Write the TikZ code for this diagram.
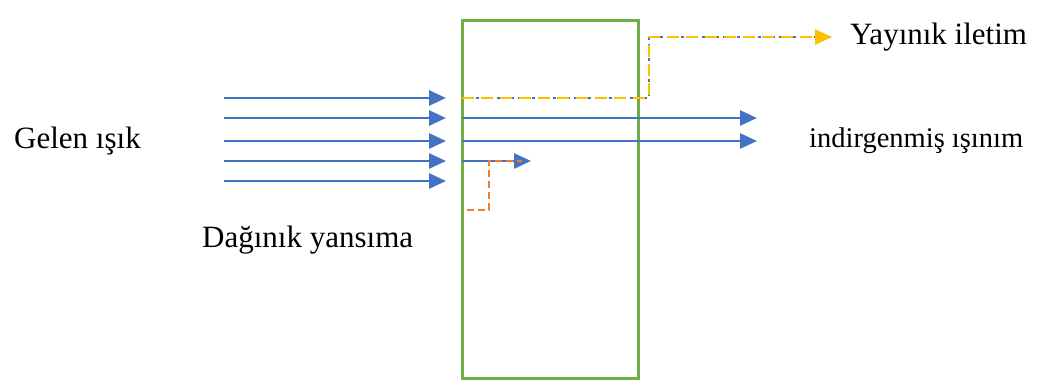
\documentclass[tikz,border=0pt]{standalone}
\usepackage{fontspec}
\setmainfont{Liberation Serif}
\usetikzlibrary{arrows.meta}
\definecolor{mblue}{HTML}{4472C4}
\definecolor{mgreen}{HTML}{70AD47}
\definecolor{morange}{HTML}{ED7D31}
\definecolor{myellow}{HTML}{FFC000}
\begin{document}
\begin{tikzpicture}[x=1pt,y=-1pt,
  ray/.style={draw=mblue, line width=2.8pt, -{Triangle[length=17pt,width=15pt]}},
  lbl/.style={font=\fontsize{31}{36}\selectfont, inner sep=0pt},
  slabbox/.style={draw=mgreen, line width=3pt, minimum width=176pt, minimum height=358pt, inner sep=0pt},
]
\useasboundingbox (0,0) rectangle (1041,383);
\node[slabbox] (slab) at (550,199) {};
% incoming rays
\foreach \i/\y in {1/98,2/118,3/141,4/161,5/181}{
  \coordinate (in\i s) at (224,\y);
  \coordinate (in\i e) at (446,\y);
  \draw[ray] (in\i s) -- (in\i e);
}
% transmitted rays
\coordinate (t1s) at (462,118); \coordinate (t1e) at (757,118);
\coordinate (t2s) at (462,141); \coordinate (t2e) at (757,141);
\draw[ray] (t1s) -- (t1e);
\draw[ray] (t2s) -- (t2e);
% short ray
\coordinate (s1s) at (462,161); \coordinate (s1e) at (531,161);
\draw[ray] (s1s) -- (s1e);
% diffuse reflection (orange)
\coordinate (o1) at (467,210); \coordinate (o2) at (489,210);
\coordinate (o3) at (489,161); \coordinate (o4) at (522,161);
\draw[morange, line width=2.4pt, dash pattern=on 7pt off 4pt] (o1) -- (o2) -- (o3) -- (o4);
% diffuse transmission (yellow over blue)
\coordinate (y1) at (462,98); \coordinate (y2) at (649,98);
\coordinate (y3) at (649,37); \coordinate (y4) at (832,37);
\draw[mblue, line width=1.6pt, dash pattern=on 3pt off 4pt] (y1) -- (y2) -- (y3) -- (y4);
\draw[myellow, line width=2.8pt, dash pattern=on 12pt off 7pt, -{Triangle[length=17pt,width=15pt]}] (y1) -- (y2) -- (y3) -- (y4);
% labels
\node[lbl, anchor=west] (gelen) at (14,141) {Gelen ışık};
\node[lbl, anchor=west] (yayinik) at (850,37) {Yayınık iletim};
\node[lbl, anchor=west] (daginik) at (202,240) {Dağınık yansıma};
\node[lbl, anchor=west, font=\fontsize{28.5}{33}\selectfont] (indir) at (809,141) {indirgenmiş ışınım};
\end{tikzpicture}
\end{document}
